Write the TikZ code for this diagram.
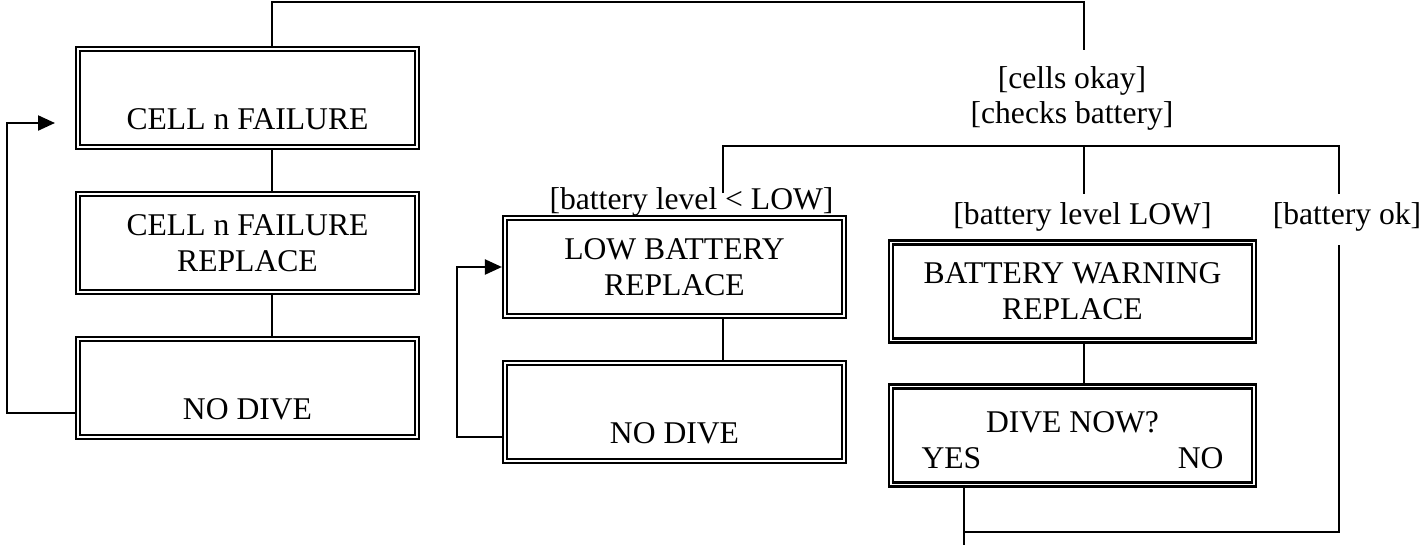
\documentclass[tikz,border=0pt]{standalone}
\usepackage{fontspec}
\setmainfont{Liberation Serif}
\usetikzlibrary{arrows.meta}
\newcommand{\BW}{6.78cm}
\newcommand{\BWr}{7.26cm}
\newcommand{\BH}{1.96cm}
\newcommand{\scrfont}{\fontsize{18}{20.4}\selectfont}

\begin{document}
\begin{tikzpicture}[
    x=0.02cm, y=-0.02cm,
    wire/.style={draw=black, line width=0.045cm},
    feed/.style={wire, -{Triangle[length=0.34cm, width=0.3cm]}},
    scr/.style={draw=black, line width=0.045cm, double=white, double distance=0.035cm,
                minimum width=\BW, minimum height=\BH, inner sep=0pt, outer sep=0.0625cm,
                align=center, font=\scrfont},
    guard/.style={align=center, font=\scrfont, inner sep=0pt},
  ]
  \useasboundingbox (0,0) rectangle (1423,545);

  %% ================= cell failure column =================
  \node[scr] (cf)  at (247.5,98)  {\strut\\[0.05cm]CELL n FAILURE};
  \node[scr] (cfr) at (247.5,243) {CELL n FAILURE\\REPLACE};
  \node[scr] (cnd) at (247.5,388) {\strut\\[0.05cm]NO DIVE};

  %% ================= low battery column =================
  \node[scr] (lb)  at (674.5,267)   {LOW BATTERY\\REPLACE};
  \node[scr] (lnd) at (674.5,412)   {\strut\\[0.05cm]NO DIVE};

  %% ================= battery warning column =================
  \node[scr, minimum width=\BWr] (bw) at (1072.5,291.5) {BATTERY WARNING\\REPLACE};
  \node[scr, minimum width=\BWr] (dn) at (1072.5,435.5)
       {\rule{0pt}{0.62cm}DIVE NOW?\\\makebox[6.04cm]{YES\hfill NO}};

  % guards
  \node[guard] (okLbl)  at (1072,98.5) {{[cells okay]}\\{[checks battery]}};
  \node[guard] (ltLbl)  at (691.5,202) {{[battery level < LOW]}};
  \node[guard] (eqLbl)  at (1082.5,217) {{[battery level LOW]}};
  \node[guard] (batLbl) at (1347,217) {{[battery ok]}};

  % routing points
  \coordinate (colL)  at (272,2);
  \coordinate (colM)  at (1084,2);
  \coordinate (okTop) at (1084,50);
  \coordinate (fkL)   at (723,146);
  \coordinate (fkM)   at (1084,146);
  \coordinate (fkR)   at (1339,146);
  \coordinate (fkLe)  at (723,193);
  \coordinate (fkMe)  at (1084,194);
  \coordinate (fkRe)  at (1339,194);
  \coordinate (okBot) at (1339,245);
  \coordinate (join)  at (964,532);
  \coordinate (exit)  at (964,545);
  \coordinate (loopL) at (7,123);
  \coordinate (cfIn)  at (55,123);
  \coordinate (loopM) at (457,267);

  %% ================= connectors =================
  \draw[wire] (cf.north -| colL) |- (colM) -- (okTop);
  \draw[wire] (cf.south -| colL) -- (cfr.north -| colL);
  \draw[wire] (cfr.south -| colL) -- (cnd.north -| colL);
  \draw[feed] ([yshift=-0.5cm]cnd.west) -| (loopL) -- (cfIn);

  \draw[wire] (fkLe) -- (fkL) -- (fkR) -- (fkRe);
  \draw[wire] (fkM) -- (fkMe);
  \draw[wire] (lb.south -| fkL) -- (lnd.north -| fkL);
  \draw[feed] ([yshift=-0.5cm]lnd.west) -| (loopM) -- (lb.west);

  \draw[wire] (bw.south -| fkM) -- (dn.north -| fkM);
  \draw[wire] (dn.south -| exit) -- (exit);
  \draw[wire] (okBot) |- (join);

\end{tikzpicture}
\end{document}
